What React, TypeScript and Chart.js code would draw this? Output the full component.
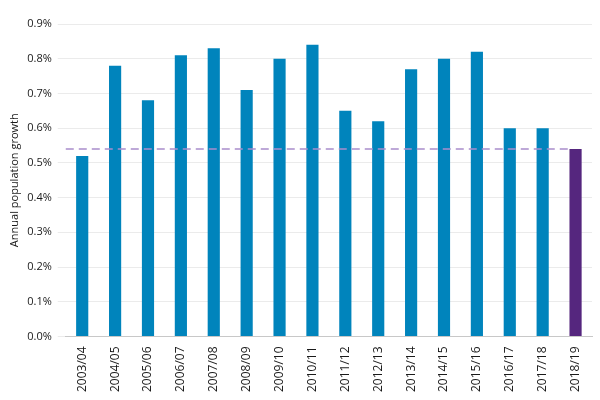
import { useEffect, useRef } from 'react'
import { Chart, registerables } from 'chart.js'

Chart.register(...registerables)

const YEARS = ['2003/04','2004/05','2005/06','2006/07','2007/08','2008/09','2009/10','2010/11','2011/12','2012/13','2013/14','2014/15','2015/16','2016/17','2017/18','2018/19']
const GROWTH = [0.52, 0.78, 0.68, 0.81, 0.83, 0.71, 0.80, 0.84, 0.65, 0.62, 0.77, 0.80, 0.82, 0.60, 0.60, 0.54]
const AVERAGE = 0.54

const BLUE = '#0084BC'
const PURPLE = '#55267E'
const FONT = "'Open Sans', sans-serif"

// dashed reference line across the plot, stops at the last bar
const avgLine = {
  id: 'avgLine',
  afterDatasetsDraw(chart: Chart) {
    const { ctx, chartArea, scales } = chart
    const y = scales.y.getPixelForValue(AVERAGE)
    const meta = chart.getDatasetMeta(0)
    const last: any = meta.data[meta.data.length - 1]
    const endX = last ? last.x - last.width / 2 : chartArea.right
    ctx.save()
    ctx.strokeStyle = '#A98DCB'
    ctx.lineWidth = 1.5
    ctx.setLineDash([8, 5])
    ctx.beginPath()
    ctx.moveTo(chartArea.left, y)
    ctx.lineTo(endX, y)
    ctx.stroke()
    ctx.restore()
  },
}

export default function App() {
  const canvasRef = useRef<HTMLCanvasElement>(null)

  useEffect(() => {
    if (!canvasRef.current) return
    const chart = new Chart(canvasRef.current, {
      type: 'bar',
      data: {
        labels: YEARS,
        datasets: [{
          data: GROWTH,
          backgroundColor: YEARS.map((_, i) => (i === YEARS.length - 1 ? PURPLE : BLUE)),
          categoryPercentage: 1,
          barPercentage: 0.37,
        }],
      },
      options: {
        animation: false,
        responsive: false,
        layout: { padding: { top: 24, right: 8, left: 8, bottom: 6 } },
        plugins: { legend: { display: false }, tooltip: { enabled: false } },
        scales: {
          x: {
            grid: { display: false },
            border: { color: '#c8c8c8' },
            ticks: {
              minRotation: 90,
              maxRotation: 90,
              color: '#1a1a1a',
              font: { family: FONT, size: 12 },
              padding: 2,
            },
          },
          y: {
            min: 0,
            max: 0.9,
            border: { display: false },
            grid: { color: '#ebebeb' },
            ticks: {
              stepSize: 0.1,
              color: '#1a1a1a',
              font: { family: FONT, size: 11 },
              padding: 6,
              callback: (v: any) => Number(v).toFixed(1) + '%',
            },
            title: {
              display: true,
              text: 'Annual population growth',
              color: '#1a1a1a',
              font: { family: FONT, size: 11 },
              padding: 0,
            },
          },
        },
      },
      plugins: [avgLine],
    })
    return () => chart.destroy()
  }, [])

  return (
    <div style={{ position: 'fixed', left: 0, top: 0, width: 600, height: 400, background: '#fff' }}>
      <canvas ref={canvasRef} width={600} height={400} />
    </div>
  )
}
